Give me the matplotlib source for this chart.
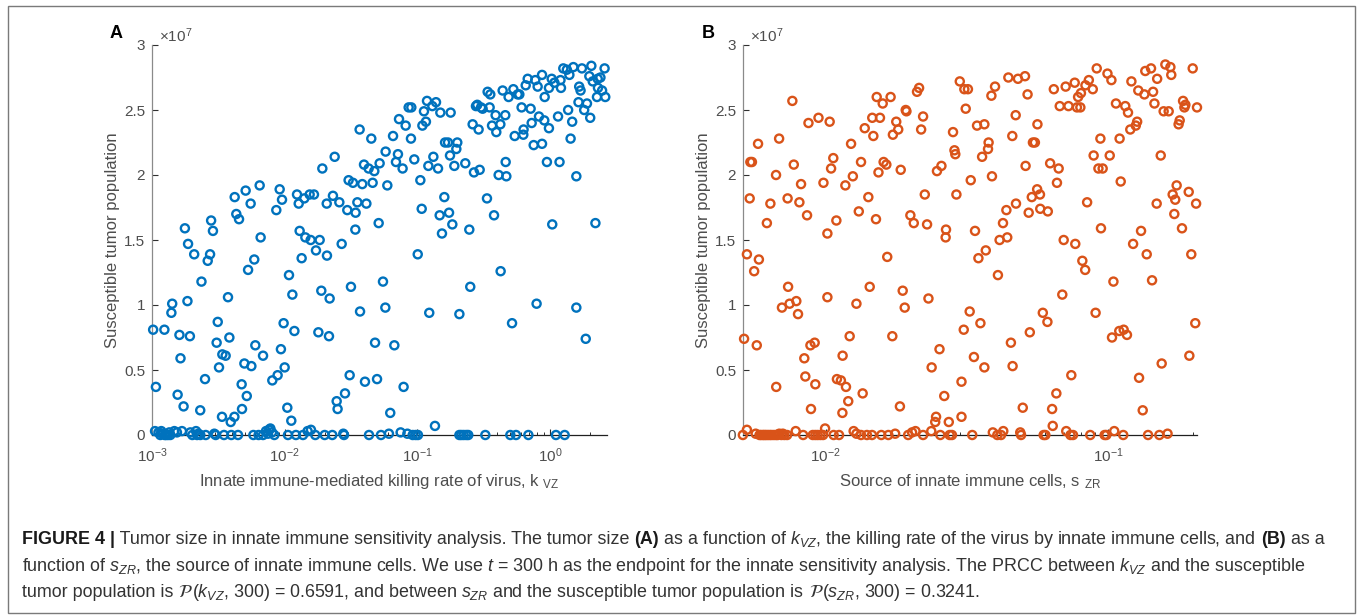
import matplotlib
matplotlib.use("Agg")
import matplotlib.pyplot as plt
from matplotlib.ticker import LogLocator, NullFormatter, FixedLocator, FixedFormatter
from matplotlib.patches import Rectangle
import numpy as np

plt.rcParams['font.family'] = ['Liberation Sans', 'DejaVu Sans']
plt.rcParams['mathtext.fontset'] = 'custom'
plt.rcParams['mathtext.rm'] = 'Liberation Sans'
plt.rcParams['mathtext.it'] = 'Liberation Sans:italic'
plt.rcParams['mathtext.bf'] = 'Liberation Sans:bold'
plt.rcParams['mathtext.sf'] = 'Liberation Sans'

# ---------------- data: panel A (k_VZ, tumor in units of 1e7) ----------------
a_upper = [(0.00177,1.59),(0.00187,1.47),(0.00279,1.65),(0.00288,1.57),(0.0042,1.83),(0.00432,1.70),
 (0.00453,1.66),(0.00508,1.88),(0.00554,1.78),(0.00648,1.92),(0.00659,1.52),(0.00865,1.73),(0.00917,1.89),
 (0.00955,1.81),(0.01239,1.85),(0.01276,1.78),(0.01297,1.57),(0.01406,1.82),(0.01432,1.52),(0.01543,1.85),
 (0.01663,1.85),(0.0157,1.50),(0.01836,1.50),(0.01923,2.05),(0.02075,1.78),(0.02312,1.84),(0.02382,2.14),
 (0.02583,1.79),(0.0269,1.47),(0.02965,1.73),(0.03034,1.96),(0.03273,1.94),(0.03426,1.71),(0.0341,1.58),
 (0.03532,1.79),(0.03673,2.35),(0.03846,1.93),(0.03963,2.08),(0.0413,1.78),(0.04295,2.05),(0.04498,2.28),
 (0.04603,1.94),(0.0474,2.03),(0.05112,1.63),(0.05198,2.09),(0.05768,2.18),(0.05941,1.92),(0.06561,2.30),
 (0.06902,2.10),(0.07145,2.16),(0.07278,2.43),(0.07745,2.05),(0.08166,2.38),(0.08604,2.52),(0.0901,2.52),
 (0.08954,2.28),(0.09485,2.12),(0.1054,1.96),(0.1079,1.74),(0.1092,2.38),(0.1122,2.49),(0.1161,2.41),
 (0.1183,2.57),(0.1211,2.07),(0.1297,2.53),(0.1321,2.14),(0.1383,2.56),(0.1432,2.05),(0.1474,1.69),
 (0.1491,2.48),(0.1534,1.55),(0.1598,1.83),(0.1618,2.25),(0.1703,2.25),(0.1734,1.71),(0.1763,2.15),
 (0.1783,2.48),(0.1836,1.62),(0.1901,2.07),(0.1968,2.20),(0.2001,2.25),(0.2299,2.09),(0.2465,1.58),
 (0.2612,2.39),(0.2673,2.02),(0.2767,2.53),(0.2831,2.54),(0.2897,2.35),(0.2951,2.04),(0.302,2.52),
 (0.3105,2.51),(0.335,1.82),(0.3388,2.64),(0.3548,2.62),(0.3508,2.52),(0.3657,2.38),(0.3786,1.69),
 (0.3892,2.46),(0.3938,2.33),(0.4102,2.00),(0.4225,2.39),(0.4397,2.65),(0.4603,2.46),(0.4634,2.10),
 (0.4688,1.99),(0.4876,2.60),(0.5296,2.66),(0.5419,2.30),(0.5706,2.62),(0.5875,2.62),(0.6109,2.52),
 (0.6294,2.31),(0.6324,2.35),(0.6561,2.69),(0.6792,2.74),(0.7145,2.51),(0.7278,2.40),(0.7535,2.23),
 (0.7745,2.73),(0.8072,2.68),(0.826,2.45),(0.871,2.77),(0.871,2.24),(0.9057,2.42),(0.912,2.60),
 (0.948,2.10),(0.982,2.67),(0.982,2.36),(1.03,2.74),(1.04,1.62),(1.08,2.71),(1.15,2.45),(1.18,2.10),
 (1.20,2.73),(1.21,2.67),(1.26,2.82),(1.34,2.81),(1.37,2.50),(1.40,2.77),(1.43,2.28),(1.47,2.41),
 (1.50,2.83),(1.58,1.99),(1.64,2.56),(1.66,2.68),(1.70,2.65),(1.74,2.82),(1.81,2.50),(1.90,2.55),
 (1.98,2.76),(2.01,2.44),(2.05,2.84),(2.10,2.72),(2.20,1.63),(2.26,2.60),(2.29,2.74),(2.30,2.67),
 (2.40,2.75),(2.47,2.65),(2.58,2.82),(2.61,2.60)]

a_middle = [(0.00208,1.39),(0.00236,1.18),(0.00185,1.03),(0.00263,1.34),(0.00274,1.39),(0.00142,1.01),
 (0.0014,0.94),(0.00102,0.81),(0.00124,0.81),(0.00161,0.77),(0.00193,0.76),(0.00164,0.59),(0.00107,0.37),
 (0.00156,0.31),(0.00173,0.22),(0.00231,0.19),(0.00251,0.43),(0.00313,0.87),(0.00307,0.71),(0.00339,0.62),
 (0.00359,0.61),(0.0032,0.52),(0.00374,1.06),(0.00383,0.75),(0.00337,0.14),(0.00392,0.10),(0.00418,0.14),
 (0.00477,0.20),(0.00474,0.39),(0.00497,0.55),(0.00518,0.30),(0.0053,1.27),(0.00561,0.53),(0.0059,1.35),
 (0.00601,0.69),(0.00687,0.61),(0.00807,0.42),(0.00885,0.46),(0.00937,0.66),(0.00982,0.86),(0.0100,0.52),
 (0.01047,0.21),(0.01078,1.23),(0.01122,0.11),(0.01143,1.08),(0.01184,0.80),(0.01343,1.36),(0.01722,1.42),
 (0.01795,0.79),(0.01889,1.11),(0.02084,1.38),(0.02183,1.05),(0.02158,0.76),(0.02466,0.26),(0.02506,0.20),
 (0.0285,0.32),(0.0309,0.46),(0.0316,1.14),(0.037,0.95),(0.0403,0.41),(0.048,0.71),(0.0497,0.43),
 (0.0551,1.18),(0.0574,0.98),(0.0625,0.17),(0.0671,0.69),(0.0788,0.37),(0.1007,1.39),(0.123,0.94),
 (0.1358,0.07),(0.2075,0.93),(0.2506,1.14),(0.4246,1.26),(0.5176,0.86),(0.7925,1.01),(1.58,0.98),(1.86,0.74)]

a_zero = [(0.001054,0.03),(0.00112,0.02),(0.001155,0.0),(0.001175,0.03),(0.0012,0.01),(0.001245,0.0),
 (0.001276,0.0),(0.00132,0.0),(0.00135,0.02),(0.001374,0.0),(0.001473,0.03),(0.001542,0.02),(0.001682,0.03),
 (0.001944,0.02),(0.002013,0.0),(0.002147,0.03),(0.002185,0.0),(0.002236,0.01),(0.002313,0.0),(0.00254,0.0),
 (0.00295,0.01),(0.00302,0.0),(0.00349,0.0),(0.00396,0.0),(0.00445,0.0),(0.00581,0.0),(0.00636,0.0),
 (0.00687,0.0),(0.00723,0.03),(0.00749,0.01),(0.00762,0.04),(0.0078,0.05),(0.00803,0.02),(0.00836,0.0),
 (0.01059,0.0),(0.01216,0.0),(0.01374,0.0),(0.01489,0.03),(0.01578,0.04),(0.01702,0.0),(0.02003,0.0),
 (0.02286,0.0),(0.02767,0.01),(0.028,0.0),(0.04323,0.0),(0.05321,0.0),(0.0611,0.01),(0.07482,0.02),
 (0.08414,0.01),(0.09226,0.0),(0.09705,0.0),(0.1011,0.0),(0.2075,0.0),(0.2148,0.0),(0.2236,0.0),(0.234,0.0),
 (0.2421,0.0),(0.3255,0.0),(0.5023,0.0),(0.5546,0.0),(0.6871,0.0),(1.109,0.0),(1.29,0.0)]

# ---------------- data: panel B (s_ZR, tumor in units of 1e7) ----------------
b_upper = [(0.00541,2.10),(0.00548,2.10),(0.00538,1.82),(0.00576,2.24),(0.00619,1.63),(0.00637,1.78),
 (0.00667,2.00),(0.00684,2.28),(0.00733,1.82),(0.00762,2.57),(0.00771,2.08),(0.00807,1.79),(0.00818,1.93),
 (0.00859,1.69),(0.00869,2.40),(0.00943,2.44),(0.00982,1.94),(0.01014,1.55),(0.01033,2.41),(0.01045,2.05),
 (0.01064,2.13),(0.01091,1.65),(0.01174,1.92),(0.0123,2.24),(0.01248,1.99),(0.0131,1.72),(0.01334,2.10),
 (0.01375,2.36),(0.01416,1.83),(0.01475,2.30),(0.01462,2.44),(0.01507,1.66),(0.01516,2.60),(0.01538,2.02),
 (0.01557,2.44),(0.01592,2.55),(0.01604,2.10),(0.0164,2.08),(0.01698,2.60),(0.0173,2.31),(0.01778,2.41),
 (0.01807,2.35),(0.01844,2.04),(0.01921,2.50),(0.01932,2.49),(0.01995,1.69),(0.02051,1.63),(0.02106,2.64),
 (0.02142,2.67),(0.02178,2.35),(0.02213,2.45),(0.02244,1.85),(0.02286,1.62),(0.02478,2.03),(0.0257,2.07),
 (0.02668,1.58),(0.0266,1.52),(0.02825,2.33),(0.02858,2.19),(0.02878,2.16),(0.02904,1.85),(0.02985,2.72),
 (0.03098,2.66),(0.03133,2.51),(0.0319,2.66),(0.03264,1.96),(0.0338,1.57),(0.03436,2.38),(0.03581,2.14),
 (0.03648,2.39),(0.03758,2.20),(0.03776,2.25),(0.03863,2.61),(0.03881,1.99),(0.03979,2.68),(0.0413,1.50),
 (0.04246,1.63),(0.04365,1.73),(0.04396,1.52),(0.04436,2.75),(0.04581,2.30),(0.04709,2.46),(0.04721,1.78),
 (0.04797,2.74),(0.05081,2.76),(0.05105,2.07),(0.05188,2.62),(0.05236,1.71),(0.0537,1.83),(0.0542,2.25),
 (0.05508,2.25),(0.0561,1.89),(0.05623,2.39),(0.05741,1.85),(0.05754,1.74),(0.0612,1.72),(0.06237,2.09),
 (0.06427,2.66),(0.06594,1.94),(0.06686,2.05),(0.06745,2.53),(0.06966,1.50),(0.07079,2.68),(0.07244,2.53),
 (0.07621,2.71),(0.07656,1.47),(0.07762,2.52),(0.07834,2.60),(0.0798,2.52),(0.08017,2.63),(0.08318,2.69),
 (0.08433,1.79),(0.08551,2.73),(0.08831,2.66),(0.08893,2.15),(0.0912,2.82),(0.09247,2.05),(0.09397,2.28),
 (0.09441,1.59),(0.09572,2.05),(0.09954,2.78),(0.1014,2.15),(0.1028,2.73),(0.1067,2.55),(0.1099,2.28),
 (0.1109,1.95),(0.1151,2.53),(0.1177,2.48),(0.1199,2.35),(0.121,2.72),(0.1227,1.47),(0.1254,2.38),
 (0.1268,2.41),(0.128,2.65),(0.1309,1.57),(0.1345,2.62),(0.1355,2.80),(0.142,2.82),(0.1444,2.64),
 (0.146,2.55),(0.1493,2.74),(0.1487,1.78),(0.1537,2.15),(0.1574,2.49),(0.1596,2.85),(0.164,2.49),
 (0.1663,2.83),(0.1675,2.77),(0.1694,1.85),(0.1717,1.70),(0.173,1.81),(0.175,1.92),(0.1778,2.39),
 (0.1794,2.42),(0.1828,1.59),(0.1844,2.57),(0.1864,2.52),(0.1879,2.54),(0.1931,1.87),(0.1995,2.82),
 (0.2051,1.78),(0.2066,2.52)]

b_middle = [(0.00526,1.39),(0.00558,1.26),(0.0058,1.35),(0.00514,0.74),(0.0057,0.69),(0.00668,0.37),
 (0.007,0.98),(0.00736,1.14),(0.00745,1.01),(0.00787,1.03),(0.00798,0.93),(0.0084,0.59),(0.00847,0.45),
 (0.00883,0.69),(0.00914,0.71),(0.00887,0.20),(0.00919,0.39),(0.01014,1.06),(0.01096,0.43),(0.01132,0.42),
 (0.01148,0.61),(0.01146,0.17),(0.0118,0.37),(0.01202,0.26),(0.01216,0.76),(0.01285,1.01),(0.01352,0.32),
 (0.01432,1.14),(0.01652,1.37),(0.01722,0.76),(0.01832,0.22),(0.01874,1.11),(0.01905,0.98),(0.02312,1.05),
 (0.02373,0.52),(0.02443,0.10),(0.0246,0.14),(0.0253,0.66),(0.0263,0.30),(0.02729,0.10),(0.03027,0.41),
 (0.03027,0.14),(0.03083,0.81),(0.03236,0.95),(0.0335,0.60),(0.03475,1.36),(0.03532,0.86),(0.03648,0.52),
 (0.0369,1.42),(0.04074,1.23),(0.04529,0.71),(0.04592,0.53),(0.04989,0.21),(0.05284,0.79),(0.05875,0.94),
 (0.061,0.87),(0.06339,0.20),(0.0637,0.07),(0.06561,0.32),(0.06887,1.08),(0.07413,0.46),(0.0811,1.34),
 (0.08299,1.27),(0.09036,0.94),(0.1033,0.75),(0.1045,1.18),(0.1096,0.80),(0.1136,0.81),(0.1167,0.77),
 (0.1288,0.44),(0.1327,0.19),(0.1371,1.39),(0.1432,1.19),(0.1549,0.55),(0.1941,0.61),(0.1972,1.39),
 (0.2037,0.86)]

b_zero = [(0.00509,0),(0.00526,0.04),(0.00565,0.01),(0.00583,0),(0.00591,0),(0.006,0),(0.00607,0),
 (0.00615,0),(0.00624,0),(0.00634,0),(0.00643,0),(0.00655,0),(0.00667,0),(0.00676,0),(0.00685,0.01),
 (0.00697,0),(0.00705,0.01),(0.00714,0),(0.0073,0),(0.00783,0.03),(0.00832,0),(0.009,0),(0.00919,0),
 (0.00937,0),(0.00958,0),(0.00979,0),(0.00995,0.05),(0.01067,0),(0.01115,0),(0.01256,0.03),(0.01285,0.01),
 (0.01334,0),(0.014,0),(0.01459,0),(0.01574,0),(0.01667,0),(0.01762,0.01),(0.01959,0),(0.02023,0.02),
 (0.0208,0.03),(0.02213,0),(0.02366,0.03),(0.02547,0),(0.02748,0),(0.028,0),(0.03304,0),(0.03908,0.02),
 (0.04055,0),(0.04178,0),(0.04256,0.03),(0.04887,0.02),(0.0492,0),(0.05916,0),(0.05998,0),(0.07112,0.03),
 (0.07362,0),(0.07516,0),(0.0865,0),(0.09727,0),(0.09863,0),(0.1052,0.03),(0.1132,0),(0.1386,0),
 (0.152,0),(0.1625,0.01)]

y_ticks = [0, 0.5, 1, 1.5, 2, 2.5, 3]
y_ticklabels = ['0', '0.5', '1', '1.5', '2', '2.5', '3']
xlim_a = (0.001, 2.69)
xlim_b = (0.005095, 0.2066)
color_a = '#0072BD'
color_b = '#D95319'
xlabel_a = r'Innate immune-mediated killing rate of virus, k $_{\mathrm{VZ}}$'
xlabel_b = r'Source of innate immune cells, s $_{\mathrm{ZR}}$'
ylabel = 'Susceptible tumor population'

W, H = 1360, 615
fig = plt.figure(figsize=(W / 100, H / 100), dpi=100)
fig.patch.set_facecolor('white')

TICK_C = '#4d4d4d'
LAB_C = '#4d4d4d'


def style_axes(ax, pts_groups, color, xlim, xlabel):
    xs = np.array([p[0] for g in pts_groups for p in g])
    ys = np.array([p[1] for g in pts_groups for p in g])
    ax.scatter(xs, ys, s=34, facecolors='none', edgecolors=color, linewidths=1.7,
               clip_on=False, zorder=3)
    ax.set_xscale('log')
    ax.set_xlim(*xlim)
    ax.set_ylim(0, 3)
    ax.yaxis.set_major_locator(FixedLocator(y_ticks))
    ax.yaxis.set_major_formatter(FixedFormatter(y_ticklabels))
    ax.xaxis.set_major_locator(LogLocator(base=10, numticks=20))
    ax.xaxis.set_minor_locator(LogLocator(base=10, subs=np.arange(2, 10), numticks=20))
    ax.xaxis.set_minor_formatter(NullFormatter())
    for s in ('top', 'right'):
        ax.spines[s].set_visible(False)
    ax.spines['left'].set_color('#8a8a8a')
    ax.spines['left'].set_linewidth(0.9)
    ax.spines['bottom'].set_color('#202020')
    ax.spines['bottom'].set_linewidth(0.9)
    ax.tick_params(axis='both', which='major', direction='in', length=4.5, width=0.8,
                   colors='#303030', labelcolor=TICK_C, labelsize=11)
    ax.tick_params(axis='x', which='major', pad=8)
    ax.tick_params(axis='y', which='major', pad=5)
    ax.tick_params(axis='x', which='minor', direction='in', length=2.5, width=0.7, colors='#303030')
    ax.set_xlabel(xlabel, fontsize=12, color=LAB_C)
    ax.set_ylabel(ylabel, fontsize=12, color=LAB_C)
    ax.xaxis.set_label_coords(0.5, -0.095)
    ax.yaxis.set_label_coords(-0.07, 0.5)
    ax.text(0.015, 1.0, r'$\times10^{7}$', transform=ax.transAxes, ha='left', va='bottom',
            fontsize=11, color=TICK_C)
    ax.patch.set_alpha(0)


axA = fig.add_axes([152 / W, 1 - 435 / H, 455 / W, 390 / H])
axB = fig.add_axes([743 / W, 1 - 435 / H, 454 / W, 390 / H])
style_axes(axA, [a_upper, a_middle, a_zero], color_a, xlim_a, xlabel_a)
style_axes(axB, [b_upper, b_middle, b_zero], color_b, xlim_b, xlabel_b)

fig.text(116 / W, 1 - 33 / H, 'A', fontsize=13, fontweight='bold', ha='center', va='center', color='black')
fig.text(708 / W, 1 - 33 / H, 'B', fontsize=13, fontweight='bold', ha='center', va='center', color='black')

# border
fig.patches.append(Rectangle((8 / W, 1 - 613 / H), (1355 - 8) / W, (613 - 6) / H,
                             transform=fig.transFigure, fill=False, edgecolor='#7a7a7a',
                             linewidth=1.0, figure=fig))

# ---------------- caption ----------------
renderer = fig.canvas.get_renderer()
CAP_SIZE = 12.9
CAP_C = '#333333'


def text_width(s, **kw):
    t = fig.text(0, 0, s, **kw)
    w = t.get_window_extent(renderer).width
    t.remove()
    return w


def draw_line(x_px, y_px, segments):
    x = x_px
    for s, weight, mfam in segments:
        kw = dict(fontsize=CAP_SIZE, fontweight=weight, color=('#1a1a1a' if weight == 'bold' else CAP_C),
                  ha='left', va='baseline')
        if mfam:
            kw['math_fontfamily'] = mfam
        fig.text(x / W, 1 - y_px / H, s, **kw)
        adv = text_width('x' + s + 'x', **kw) - text_width('xx', **kw)
        x += adv


line1 = [('FIGURE 4 |', 'bold', None),
         (' Tumor size in innate immune sensitivity analysis. The tumor size ', 'normal', None),
         ('(A)', 'bold', None),
         (r' as a function of $k_{VZ}$, the killing rate of the virus by innate immune cells, and ', 'normal', None),
         ('(B)', 'bold', None),
         (' as a', 'normal', None)]
line2 = [(r'function of $s_{ZR}$, the source of innate immune cells. We use $t$ = 300 h as the endpoint for the '
          r'innate sensitivity analysis. The PRCC between $k_{VZ}$ and the susceptible', 'normal', None)]
line3 = [('tumor population is ', 'normal', None),
         (r'$\mathcal{P}$', 'normal', 'stix'),
         (r'($k_{VZ}$, 300) = 0.6591, and between $s_{ZR}$ and the susceptible tumor population is ', 'normal', None),
         (r'$\mathcal{P}$', 'normal', 'stix'),
         (r'($s_{ZR}$, 300) = 0.3241.', 'normal', None)]

draw_line(22, 544, line1)
draw_line(22, 571, line2)
draw_line(22, 597, line3)

fig.savefig('out.png', dpi=100, facecolor='white')
